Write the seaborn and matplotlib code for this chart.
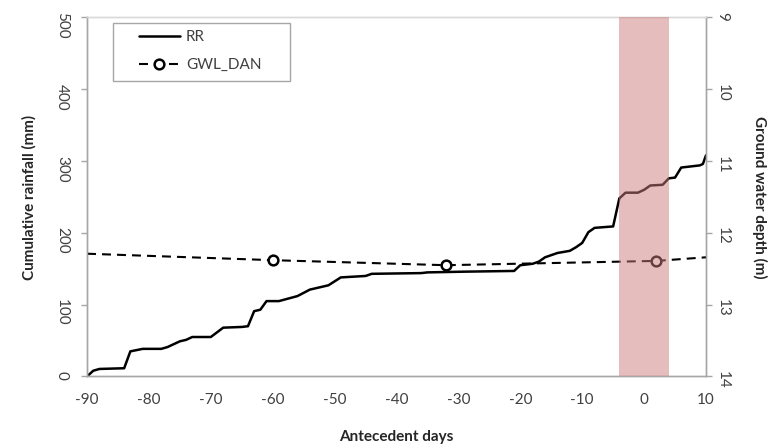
import matplotlib
matplotlib.use("Agg")
import matplotlib.pyplot as plt
import seaborn as sns
from matplotlib.patches import Rectangle

# --- data ---
rr_days = [-90, -89, -88, -84, -83, -81, -78, -77, -75, -74, -73, -70, -68, -65,
           -64, -63, -62, -61, -59, -56, -54, -53, -51, -49, -45, -44, -36, -35,
           -29, -21, -20, -18, -17, -16, -14, -12, -11, -10, -9, -8, -5, -4,
           -3, -1, 0, 1, 3, 4, 5, 6, 9, 9.5, 10]
rr_mm = [0, 8, 10.5, 11.5, 35, 38.5, 38.5, 41, 49, 51, 55, 55, 68, 69,
         70, 91, 93, 105, 105, 112, 121, 123, 127, 138, 140, 143, 144, 145,
         146, 147, 155, 157, 160, 166, 172, 175, 180, 186, 201, 207, 209, 248,
         256, 256, 260, 266, 267, 276, 277, 291, 294, 296, 308]

gwl_days = [-90, -60, -32, 2, 10]
gwl_depth = [12.29, 12.38, 12.45, 12.39, 12.34]
gwl_marked = [1, 2, 3]          # points that carry a marker

event_start, event_end = -4, 4  # shaded event window

x_ticks = list(range(-90, 11, 10))
rr_ticks = list(range(0, 501, 100))
gwl_ticks = list(range(9, 15))

# --- style ---
sns.set_style("white")
plt.rcParams['font.family'] = ['Lato', 'DejaVu Sans']
plt.rcParams['axes.unicode_minus'] = False
AXIS_GREY = '#a6a6a6'
TICK_TXT = '#404040'

fig = plt.figure(figsize=(7.77, 4.48), dpi=100)
ax = fig.add_axes([0.112, 0.1596, 0.7966, 0.8014])
ax2 = ax.twinx()

sns.lineplot(x=rr_days, y=rr_mm, ax=ax, color='black', linewidth=1.8,
             label='RR', legend=False, sort=False)
sns.lineplot(x=gwl_days, y=gwl_depth, ax=ax2, color='black', linewidth=1.5,
             linestyle=(0, (4.3, 2.9)), marker='o', markevery=gwl_marked,
             markersize=7, markeredgewidth=1.8, markerfacecolor='white',
             markeredgecolor='black', label='GWL_DAN', legend=False, sort=False)

# event window drawn over both series
ax2.axvspan(event_start, event_end, color='#cd7d7d', alpha=0.5, lw=0, zorder=5)

ax.set_xlim(-90, 10)
ax.set_ylim(0, 500)
ax2.set_ylim(14, 9)
ax.set_xticks(x_ticks)
ax.set_yticks(rr_ticks)
ax2.set_yticks(gwl_ticks)

for a in (ax, ax2):
    for side in ('left', 'right', 'bottom'):
        a.spines[side].set_color(AXIS_GREY)
        a.spines[side].set_linewidth(1)
    a.spines['top'].set_color('#d9d9d9')
    a.spines['top'].set_linewidth(1)
    a.grid(False)

ax.tick_params(axis='x', direction='in', length=5, width=1, color=AXIS_GREY,
               labelsize=11, labelcolor=TICK_TXT, pad=12)
ax.tick_params(axis='y', direction='out', length=4, width=1, color=AXIS_GREY,
               labelsize=11, labelcolor=TICK_TXT, pad=9, labelrotation=270)
ax2.tick_params(axis='y', direction='out', length=4, width=1, color=AXIS_GREY,
                labelsize=11, labelcolor=TICK_TXT, pad=3, labelrotation=270)

ax.set_ylabel('Cumulative rainfall (mm)', fontsize=11, fontweight='bold')
ax.yaxis.set_label_coords(-0.081, 0.5)
ax2.set_ylabel('Ground water depth (m)', fontsize=11, fontweight='bold',
               rotation=270, va='bottom')
ax2.yaxis.set_label_coords(1.075, 0.5)
ax.set_xlabel('Antecedent days', fontsize=11, fontweight='bold')
ax.xaxis.set_label_coords(0.5, -0.148)

# legend box
box = Rectangle((0.0415, 0.823), 0.2864, 0.1607, transform=ax2.transAxes,
                facecolor='white', edgecolor=AXIS_GREY, lw=1, zorder=6)
ax2.add_patch(box)
handles = ax.get_lines()[:1] + ax2.get_lines()[:1]
leg = ax2.legend(handles, ['RR', 'GWL_DAN'], loc='upper left',
                 bbox_to_anchor=(0.084, 0.964), frameon=False, fontsize=11,
                 borderpad=0, borderaxespad=0, handlelength=2.68,
                 handletextpad=0.4, labelspacing=0.9, labelcolor=TICK_TXT)
leg.set_zorder(7)

fig.savefig('out.png', dpi=100)
